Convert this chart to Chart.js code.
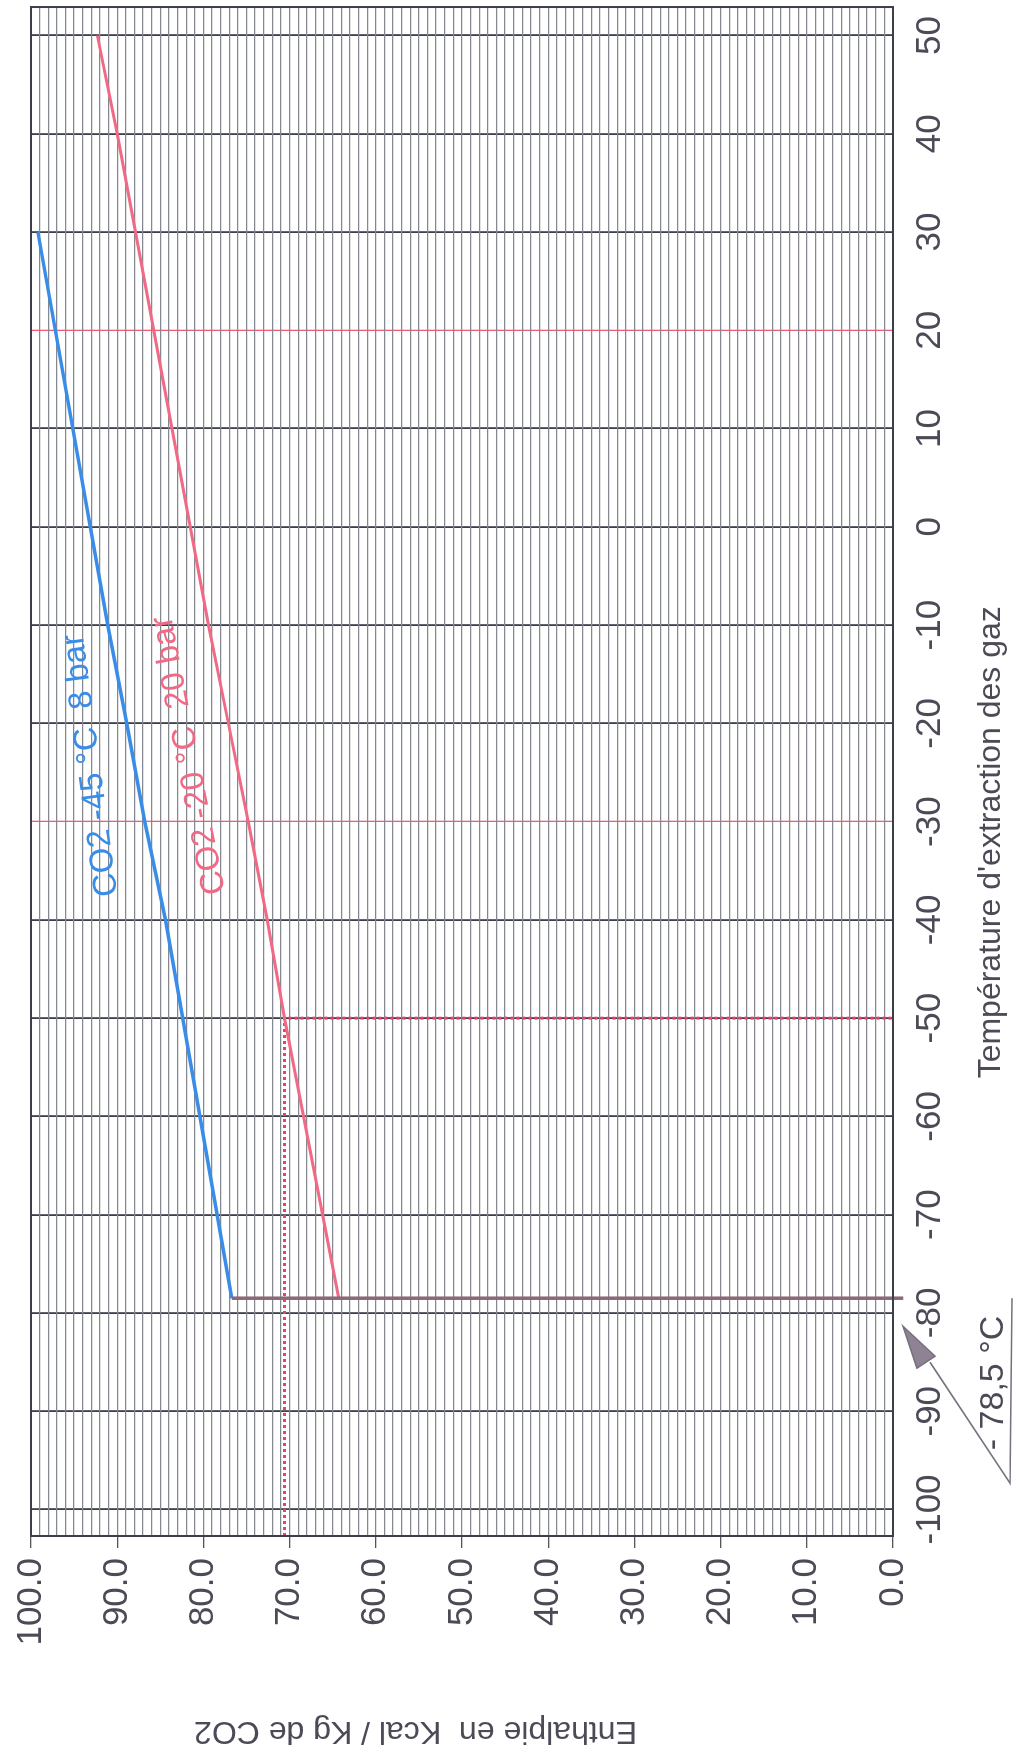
<!DOCTYPE html>
<html lang="fr">
<head>
<meta charset="utf-8">
<title>Enthalpie du CO2</title>
<script src="https://cdn.jsdelivr.net/npm/chart.js@4.4.1/dist/chart.umd.min.js"></script>
<style>
html, body { margin: 0; padding: 0; background: #fff; overflow: hidden; }
#page { width: 1028px; height: 1757px; position: relative; overflow: hidden; background: #fff; }
/* le graphique est dessiné à plat puis tourné d'un quart de tour, comme la feuille scannée */
#feuille { position: absolute; left: 0; top: 0; width: 1757px; height: 1028px;
  transform-origin: 0 0; transform: translate(0, 1757px) rotate(-90deg); }
</style>
</head>
<body>
<div id="page"><div id="feuille"><canvas id="graphe" width="1757" height="1028"></canvas></div></div>
<script>
// Graduations
const ticksTemperature = [-100, -90, -80, -70, -60, -50, -40, -30, -20, -10, 0, 10, 20, 30, 40, 50];
const ticksEnthalpie = [0, 10, 20, 30, 40, 50, 60, 70, 80, 90, 100];
const lignesRouges = [20, -30];

// CO2 -45 °C 8 bar
const tempCO2_8bar = [-78.5, -40, -30, -20, -10, 30];
const enthCO2_8bar = [76.7, 84.4, 86.8, 88.9, 91.1, 99.2];

// CO2 -20 °C 20 bar
const tempCO2_20bar = [-78.5, -50, -40, -30, -20, -10, 40, 50];
const enthCO2_20bar = [64.3, 70.6, 72.6, 74.8, 77.1, 79.4, 90.0, 92.3];

// palier de sublimation à -78,5 °C
const tempPalier = [-78.5, -78.5];
const enthPalier = [76.7, -1.2];

// repère pointillé lu à -50 °C
const tempRepere = [-102.7, -50, -50];
const enthRepere = [70.6, 70.6, 0];

const POLICE = '"Liberation Sans", Arial, sans-serif';
const GRIS_TEXTE = '#4b4b57';
const GRIS_FORT = '#3c3f4a';
const BLEU = '#3a8de6';
const ROSE = '#f06a86';

const points = (xs, ys) => xs.map((t, i) => ({ x: t, y: ys[i] }));

function texteIncline(ctx, txt, px, py, angle, couleur, taille) {
    ctx.save();
    ctx.translate(px, py);
    ctx.rotate(-angle * Math.PI / 180);
    ctx.font = `${taille}px ${POLICE}`;
    ctx.fillStyle = couleur;
    ctx.textAlign = 'left';
    ctx.textBaseline = 'alphabetic';
    ctx.fillText(txt, 0, 0);
    ctx.restore();
}

// cadre, titres d'axes, étiquettes des courbes et flèche -78,5 °C
const habillage = {
    id: 'habillage',
    afterDraw(chart) {
        const { ctx, chartArea: a, scales: { x, y } } = chart;
        ctx.save();
        ctx.strokeStyle = GRIS_FORT;
        ctx.lineWidth = 2;
        ctx.strokeRect(a.left, a.top, a.right - a.left, a.bottom - a.top);

        // titre axe des températures
        ctx.font = `32px ${POLICE}`;
        ctx.fillStyle = GRIS_TEXTE;
        ctx.textAlign = 'center';
        ctx.textBaseline = 'alphabetic';
        ctx.fillText("Température d'extraction des gaz", x.getPixelForValue(-32.1), a.bottom + 107);

        // titre axe des enthalpies
        ctx.save();
        ctx.translate(35, y.getPixelForValue(55.4));
        ctx.rotate(-Math.PI / 2);
        ctx.fillText('Enthalpie en  Kcal / Kg de CO2', 0, 0);
        ctx.restore();

        // étiquettes des courbes
        texteIncline(ctx, 'CO2 -45 °C  8 bar', x.getPixelForValue(-37.5), y.getPixelForValue(90.0), 7.5, BLEU, 33);
        texteIncline(ctx, 'CO2 -20 °C  20 bar', x.getPixelForValue(-37.2), y.getPixelForValue(77.5), 11, ROSE, 33);

        // flèche vers le palier
        const xp = x.getPixelForValue(-78.5);
        const b = a.bottom;
        ctx.strokeStyle = '#77707f';
        ctx.lineWidth = 1.5;
        ctx.beginPath();
        ctx.moveTo(xp, b + 119);
        ctx.lineTo(xp - 185, b + 117);
        ctx.lineTo(xp - 64, b + 37);
        ctx.stroke();
        ctx.fillStyle = '#8f8294';
        ctx.beginPath();
        ctx.moveTo(xp - 28, b + 10);
        ctx.lineTo(xp - 70, b + 24);
        ctx.lineTo(xp - 58, b + 42);
        ctx.closePath();
        ctx.fill();
        ctx.stroke();
        ctx.font = `34px ${POLICE}`;
        ctx.fillStyle = GRIS_TEXTE;
        ctx.textAlign = 'left';
        ctx.fillText('- 78,5 °C', xp - 152, b + 110);
        ctx.restore();
    }
};

new Chart(document.getElementById('graphe'), {
    type: 'scatter',
    data: {
        datasets: [
            { label: 'Palier -78,5 °C', data: points(tempPalier, enthPalier), showLine: true,
              borderColor: '#8a6878', borderWidth: 3.5, pointRadius: 0, clip: false, order: 1 },
            { label: 'CO2 -45 °C 8 bar', data: points(tempCO2_8bar, enthCO2_8bar), showLine: true,
              borderColor: BLEU, borderWidth: 3.5, pointRadius: 0, order: 2 },
            { label: 'CO2 -20 °C 20 bar', data: points(tempCO2_20bar, enthCO2_20bar), showLine: true,
              borderColor: ROSE, borderWidth: 3, pointRadius: 0, order: 3 },
            { label: 'Repère -50 °C', data: points(tempRepere, enthRepere), showLine: true,
              borderColor: '#f23c68', borderWidth: 3, borderDash: [3, 3], pointRadius: 0, order: 4 }
        ]
    },
    options: {
        responsive: false,
        animation: false,
        devicePixelRatio: 1,
        layout: { padding: { top: 23, right: 3, bottom: 0, left: 0 } },
        plugins: { legend: { display: false }, tooltip: { enabled: false } },
        scales: {
            x: {
                type: 'linear', position: 'bottom', min: -102.7, max: 52.9,
                afterBuildTicks: (s) => { s.ticks = ticksTemperature.map(v => ({ value: v })); },
                afterFit: (s) => { s.height = 135; },
                ticks: { font: { size: 35, family: POLICE }, color: GRIS_TEXTE, padding: 16, maxRotation: 0, autoSkip: false },
                grid: {
                    drawTicks: false,
                    color: (c) => lignesRouges.includes(c.tick && c.tick.value) ? '#f25a78' : GRIS_FORT,
                    lineWidth: (c) => lignesRouges.includes(c.tick && c.tick.value) ? 1.3 : 1.8
                },
                border: { display: false }
            },
            y: {
                type: 'linear', min: 0, max: 100,
                afterBuildTicks: (s) => {
                    const t = [];
                    for (let v = ticksEnthalpie[0]; v <= ticksEnthalpie[ticksEnthalpie.length - 1]; v++) t.push({ value: v });
                    s.ticks = t;
                },
                afterFit: (s) => { s.width = 221; },
                ticks: {
                    font: { size: 35, family: POLICE }, color: GRIS_TEXTE, padding: 10, autoSkip: false,
                    callback: (v) => ticksEnthalpie.includes(v) ? v.toFixed(1) : ''
                },
                grid: {
                    color: '#858891', lineWidth: 1.3, tickLength: 12,
                    tickColor: (c) => ticksEnthalpie.includes(c.tick && c.tick.value) ? '#555' : 'rgba(0,0,0,0)'
                },
                border: { display: false }
            }
        }
    },
    plugins: [habillage]
});
</script>
</body>
</html>
